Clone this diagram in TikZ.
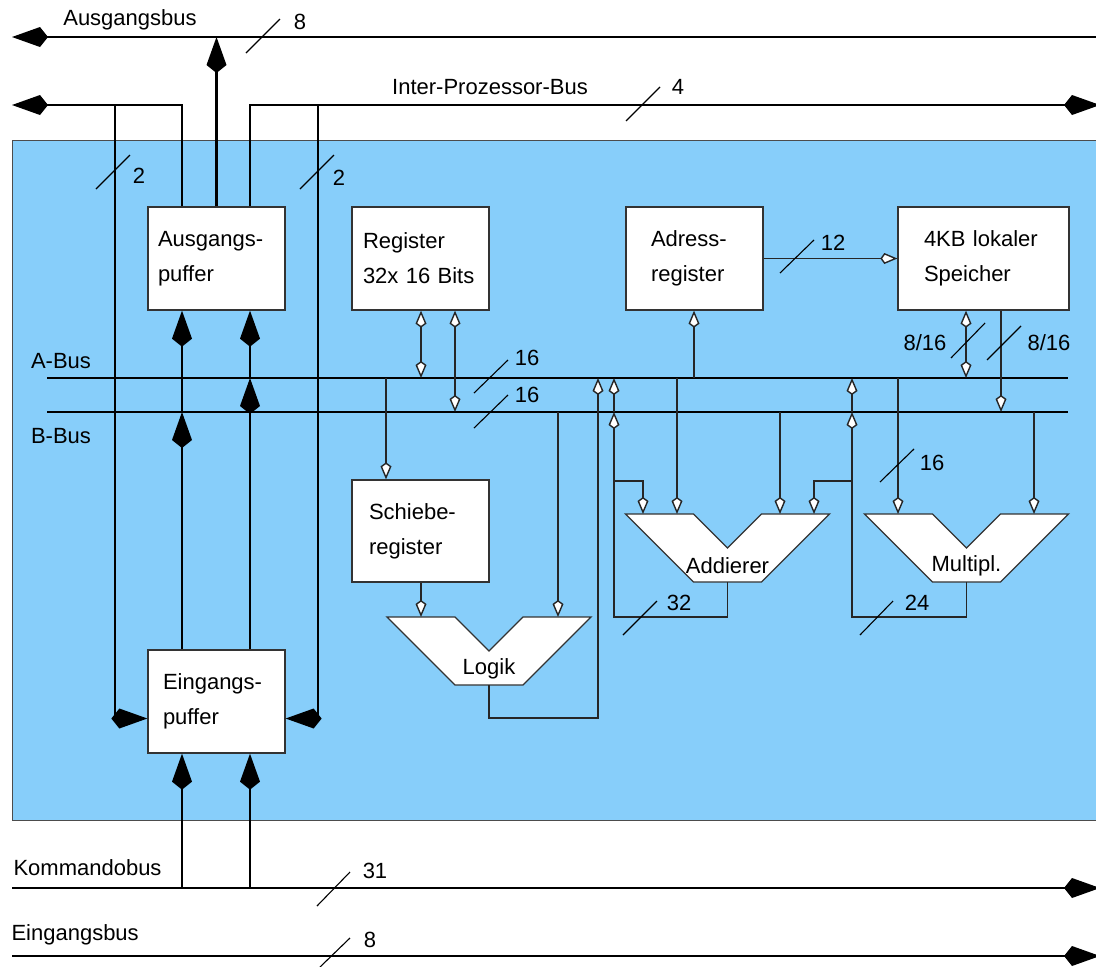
\documentclass[tikz,border=0pt]{standalone}
\usepackage{fontspec}
\setmainfont{Liberation Sans}
\usetikzlibrary{arrows.meta,calc}
\definecolor{chipblue}{RGB}{135,206,250}
\tikzset{
  every picture/.style = {
    x=1pt, y=-1pt,
    font=\fontsize{22}{35}\selectfont
  }
}
\tikzset{
  bigtip/.tip={Kite[length=36pt,width=20pt,inset=8pt]},
  wtip/.tip={Kite[length=17pt,width=11pt,inset=4pt,fill=white]},
  bus/.style={
    line width=2.9pt,
  },
  wire/.style={
    line width=1.4pt,
    draw=black!85,
  },
  tick/.style={
    line width=1.1pt,
  },
  box/.style={
    draw=black!80,
    fill=white,
    line width=1.3pt,
    inner sep=0pt,
    minimum width=137pt,
    minimum height=103pt,
    align=left
  },
  alubox/.style={
    draw=black!80,
    fill=white,
    line width=1.3pt
  },
  alu/.pic={
    \draw[alubox] (-102,0) -- (-34,0) -- (0,34) -- (34,0) -- (102,0)
      -- (34,68) -- (-34,68) -- cycle;
    \node (-name) at (0,52) {#1};
    \coordinate (-top) at (0,0);
    \coordinate (-out) at (0,68);
  }
}

\begin{document}
\begin{tikzpicture}
  \useasboundingbox (0,0) rectangle (1096,967);
  \fill[chipblue, draw=black!70, line width=1pt] (12,140) rectangle (1110,820);

  % buses outside the chip
  \coordinate (ausW) at (12,37);
  \coordinate (ausE) at (1110,37);
  \coordinate (ipW) at (12,105);
  \coordinate (ipE) at (1100,105);
  \coordinate (kW) at (12,888);
  \coordinate (kE) at (1100,888);
  \coordinate (eW) at (12,956);
  \coordinate (eE) at (1100,956);
  \draw[bus,bigtip-] (ausW) -- (ausE);
  \draw[bus,-bigtip] (kW) -- (kE);
  \draw[bus,-bigtip] (eW) -- (eE);

  \node (lAus) at (130,20) {Ausgangsbus};
  \node (lIp) at (490,87) {Inter-Prozessor-Bus};
  \node[anchor=west] (lKom) at (10,868) {Kommandobus};
  \node[anchor=west] (lEin) at (8,935) {Eingangsbus};

  % internal buses
  \coordinate (aW) at (47,378);
  \coordinate (aE) at (1068,378);
  \coordinate (bW) at (47,412);
  \coordinate (bE) at (1068,412);
  \draw[bus] (aW) -- (aE);
  \draw[bus] (bW) -- (bE);
  \node (lA) at (61,361) {A-Bus};
  \node (lB) at (61,436) {B-Bus};

  % boxes
  \node[box, text width=117pt] (ausg) at (216.5,258.5) {Ausgangs-\\puffer};
  \node[box, text width=115pt] (reg) at (420.5,258.5) {Register\\32x 16 Bits};
  \node[box, text width=87pt] (adr) at (694.5,258.5) {Adress-\\register};
  \node[box, text width=119pt, minimum width=171pt] (spei) at (983.5,258.5) {4KB lokaler\\Speicher};
  \node[box, text width=103pt, minimum height=102pt] (schieb) at (420.5,531) {Schiebe-\\register};
  \node[box, text width=107pt] (eing) at (216.5,701.5) {Eingangs-\\puffer};

  \pic (logik) at (489,617) {alu=Logik};
  \pic (add) at (727.5,514) {alu=Addierer};
  \pic (mul) at (966.5,514) {alu=Multipl.};

  % puffer connections
  \coordinate (c1) at (182,105);
  \coordinate (c2) at (250,105);
  \coordinate (c3) at (115,105);
  \coordinate (c4) at (318,105);
  \coordinate (eL) at ([yshift=-17pt]eing.west);
  \coordinate (eR) at ([yshift=-17pt]eing.east);
  \draw[bus,-bigtip] (ausg.north) -- (ausg.north |- ausW);
  \draw[bus,bigtip-] (ipW) -- (c1) -- (c1 |- ausg.north);
  \draw[bus,-bigtip] (c2 |- ausg.north) -- (c2) -- (ipE);
  \draw[bus,-bigtip] (c3) -- (c3 |- eL) -- (eL);
  \draw[bus,-bigtip] (c4) -- (c4 |- eR) -- (eR);
  \draw[bus,-bigtip] (eing.north -| c1) -- (bW -| c1);
  \draw[bus,-bigtip] (bW -| c1) -- (ausg.south -| c1);
  \draw[bus,-bigtip] (eing.north -| c2) -- (aW -| c2);
  \draw[bus,-bigtip] (aW -| c2) -- (ausg.south -| c2);
  \draw[bus,-bigtip] (kW -| c1) -- (eing.south -| c1);
  \draw[bus,-bigtip] (kW -| c2) -- (eing.south -| c2);

  % register and schieberegister
  \coordinate (tRa) at (421,378);
  \coordinate (tRb) at (455,412);
  \coordinate (tSa) at (386,378);
  \coordinate (li1) at (421,617);
  \coordinate (li2) at (558,617);
  \draw[wire,wtip-wtip] (reg.south -| tRa) -- (tRa);
  \draw[wire,wtip-wtip] (reg.south -| tRb) -- (tRb);
  \draw[wire,-wtip] (tSa) -- (tSa |- schieb.north);
  \draw[wire,-wtip] (schieb.south -| li1) -- (li1);
  \draw[wire,-wtip] (li2 |- bW) -- (li2);

  % logik output
  \coordinate (tLa) at (598,378);
  \coordinate (lg) at (598,718);
  \draw[wire,-wtip] (logik-out) |- (lg) -- (tLa);

  % addierer
  \coordinate (ad1) at (614,617);
  \coordinate (ad2) at (614,481);
  \coordinate (tAb) at (614,412);
  \coordinate (tAa) at (614,378);
  \coordinate (ai1) at (643,514);
  \coordinate (ai2) at (677,514);
  \coordinate (ai3) at (780,514);
  \coordinate (ai4) at (814,514);
  \draw[wire,-wtip] (add-out) |- (ad1) -- (tAb);
  \draw[wire,-wtip] (tAb) -- (tAa);
  \draw[wire,-wtip] (ad2) -| (ai1);
  \draw[wire,-wtip] (ai2 |- aW) -- (ai2);
  \draw[wire,-wtip] (ai3 |- bW) -- (ai3);

  % multiplizierer
  \coordinate (mu1) at (852,617);
  \coordinate (mu2) at (852,481);
  \coordinate (tMb) at (852,412);
  \coordinate (tMa) at (852,378);
  \coordinate (mi1) at (898,514);
  \coordinate (mi2) at (1034,514);
  \draw[wire,-wtip] (mul-out) |- (mu1) -- (tMb);
  \draw[wire,-wtip] (tMb) -- (tMa);
  \draw[wire,-wtip] (mu2) -| (ai4);
  \draw[wire,-wtip] (mi1 |- aW) -- (mi1);
  \draw[wire,-wtip] (mi2 |- bW) -- (mi2);

  % adressregister and speicher
  \coordinate (tDa) at (694,378);
  \coordinate (tPa) at (966,378);
  \coordinate (tPb) at (1001,412);
  \draw[wire,-wtip] (tDa) -- (tDa |- adr.south);
  \draw[wire,-wtip] (adr.east) -- (spei.west);
  \draw[wire,wtip-wtip] (spei.south -| tPa) -- (tPa);
  \draw[wire,-wtip] (spei.south -| tPb) -- (tPb);

  % bit widths
  \draw[tick] (246,53) -- (280,19);
  \node (w1) at (300,22) {8};
  \draw[tick] (626,121) -- (660,87);
  \node (w2) at (678,87) {4};
  \draw[tick] (96,189) -- (130,155);
  \node (w3) at (139,176) {2};
  \draw[tick] (300,189) -- (334,155);
  \node (w4) at (339,178) {2};
  \draw[tick] (474,393) -- (508,360);
  \node (w5) at (527,358) {16};
  \draw[tick] (474,428) -- (508,395);
  \node (w6) at (527,395) {16};
  \draw[tick] (780,273) -- (814,240);
  \node (w7) at (833,243) {12};
  \draw[tick] (951,358) -- (985,323);
  \node (w8) at (925,343) {8/16};
  \draw[tick] (987,360) -- (1021,326);
  \node (w9) at (1049,343) {8/16};
  \draw[tick] (880,482) -- (914,449);
  \node (w10) at (932,463) {16};
  \draw[tick] (623,635) -- (657,601);
  \node (w11) at (679,603) {32};
  \draw[tick] (860,635) -- (893,601);
  \node (w12) at (917,603) {24};
  \draw[tick] (317,906) -- (350,872);
  \node (w13) at (375,871) {31};
  \draw[tick] (320,967) -- (350,938);
  \node (w14) at (370,940) {8};
\end{tikzpicture}
\end{document}
